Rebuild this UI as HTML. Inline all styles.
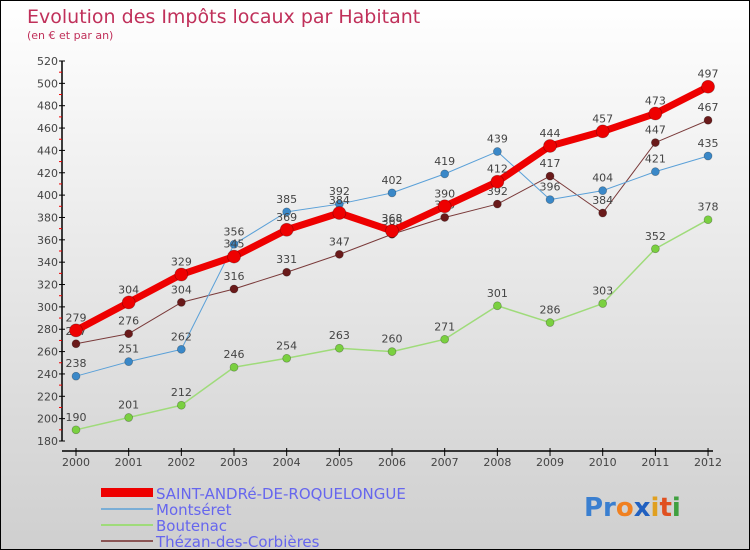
<!DOCTYPE html>
<html><head><meta charset="utf-8"><style>
body{margin:0}
#c{width:748px;height:548px;border:1px solid #000;background:linear-gradient(#fff,#cfcfcf);position:relative;font-family:"DejaVu Sans","Liberation Sans",sans-serif;overflow:hidden}
text{font-family:"DejaVu Sans","Liberation Sans",sans-serif}
</style></head><body>
<div id="c">
<svg id="s" width="748" height="548">
<text x="26" y="22" font-size="19" fill="#c0305a">Evolution des Impôts locaux par Habitant</text>
<text x="26" y="38" font-size="11" fill="#c0305a">(en € et par an)</text>
<g id="ax"></g><g id="series"></g>
<g>
<rect x="100" y="487" width="52" height="9" fill="#e00"/>
<text x="155" y="498" font-size="15" fill="#6666ee">SAINT-ANDRé-DE-ROQUELONGUE</text>
<line x1="100" x2="152" y1="508" y2="508" stroke="#7aaed6" stroke-width="2"/>
<text x="155" y="514" font-size="15" fill="#6666ee">Montséret</text>
<line x1="100" x2="152" y1="524" y2="524" stroke="#9fdb7a" stroke-width="2"/>
<text x="155" y="530" font-size="15" fill="#6666ee">Boutenac</text>
<line x1="100" x2="152" y1="540" y2="540" stroke="#8a5555" stroke-width="2"/>
<text x="155" y="546" font-size="15" fill="#6666ee">Thézan-des-Corbières</text>
</g>
<g font-size="26" font-weight="bold">
<text x="583" y="515"><tspan fill="#3a7fd0">Pr</tspan><tspan fill="#f08020">o</tspan><tspan fill="#2060c0">x</tspan><tspan fill="#e0a020">i</tspan><tspan fill="#e05020">t</tspan><tspan fill="#40a040">i</tspan></text>
</g>
</svg></div>
<script>
const years=[2000,2001,2002,2003,2004,2005,2006,2007,2008,2009,2010,2011,2012];
const yTicks=[180,200,220,240,260,280,300,320,340,360,380,400,420,440,460,480,500,520];
const saintAndre=[279,304,329,345,369,384,368,390,412,444,457,473,497];
const montseret=[238,251,262,356,385,392,402,419,439,396,404,421,435];
const boutenac=[190,201,212,246,254,263,260,271,301,286,303,352,378];
const thezan=[267,276,304,316,331,347,365,380,392,417,384,447,467];
const NS='http://www.w3.org/2000/svg';
const X=i=>75+i*52.67;
const Y=v=>60+(520-v)*380/340;
function mk(t,a,p){const e=document.createElementNS(NS,t);for(const k in a)e.setAttribute(k,a[k]);p.appendChild(e);return e;}
const ax=document.getElementById('ax');
let l=mk('line',{x1:61,x2:61,y1:60,y2:440,stroke:'#000','stroke-width':1.5},ax);


l=mk('line',{x1:61,x2:712,y1:450,y2:450,stroke:'#000','stroke-width':1.5},ax);


yTicks.forEach((v,i)=>{
 mk('line',{x1:58,x2:64,y1:Y(v),y2:Y(v),stroke:'#000'},ax);
 if(i<yTicks.length-1)mk('line',{x1:58,x2:61,y1:Y(v+10),y2:Y(v+10),stroke:'#e00'},ax);
 const t=mk('text',{x:57,y:Y(v)+4,'font-size':11,fill:'#444','text-anchor':'end'},ax);
 t.textContent=v;
 
 
});
years.forEach((yr,i)=>{
 mk('line',{x1:X(i),x2:X(i),y1:447,y2:455,stroke:'#000'},ax);
 const t=mk('text',{x:X(i),y:465,'font-size':11,fill:'#444','text-anchor':'middle'},ax);
 t.textContent=yr;
 
 
});
const sg=document.getElementById('series');
function draw(name,vals,color,w,r,fill){
 const g=mk('g',{},sg);
 
 
 mk('polyline',{points:vals.map((v,i)=>X(i)+','+Y(v)).join(' '),fill:'none',stroke:color,'stroke-width':w,'stroke-linejoin':'round'},g);
 vals.forEach((v,i)=>{
  const c=mk('circle',{cx:X(i),cy:Y(v),r:r,fill:fill,stroke:'rgba(0,0,0,0.3)','stroke-width':0.7},g);
  
  
  const t=mk('text',{x:X(i),y:Y(v)-9,'font-size':11,fill:'#444','text-anchor':'middle'},g);
  t.textContent=v;
  
  
 });
}
draw('thezan',thezan,'#7a3a3a',1,4,'#6a1a1a');
draw('montseret',montseret,'#5aa0d8',1,4,'#3a88c8');
draw('boutenac',boutenac,'#9fdb7a',1.5,4,'#7ad040');
draw('saint-andre',saintAndre,'#ee0000',7,6.5,'#ee0000');
</script>
</body></html>
